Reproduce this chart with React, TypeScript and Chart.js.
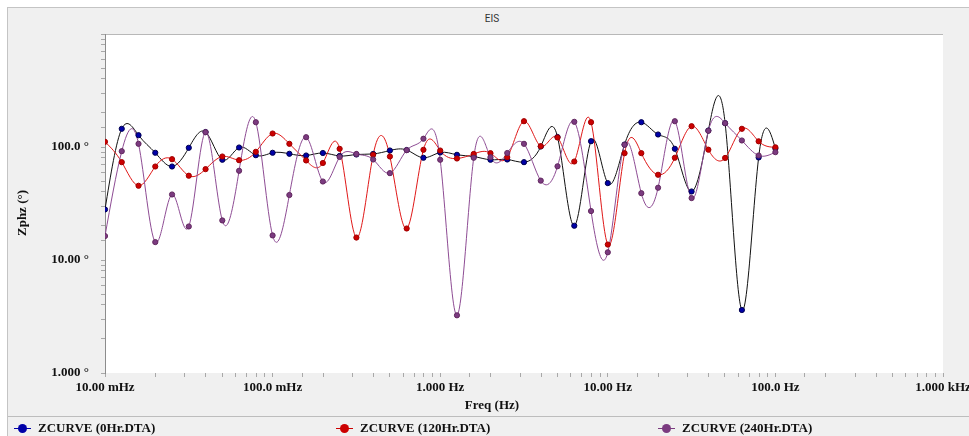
import React, { useEffect, useRef } from "react";
import { Chart, registerables } from "chart.js";

Chart.register(...registerables);

// ---- data ----
const freqHz = [
  0.01, 0.01259, 0.01585, 0.01995, 0.02512, 0.03162, 0.03981, 0.05012, 0.0631, 0.07943,
  0.1, 0.1259, 0.1585, 0.1995, 0.2512, 0.3162, 0.3981, 0.5012, 0.631, 0.7943,
  1, 1.259, 1.585, 1.995, 2.512, 3.162, 3.981, 5.012, 6.31, 7.943,
  10, 12.59, 15.85, 19.95, 25.12, 31.62, 39.81, 50.12, 63.1, 79.43, 100,
];

const phase0Hr = [
  28.0, 144.9, 127.2, 88.9, 67.2, 98.4, 135.7, 77.1, 99.0, 84.6,
  88.9, 87.1, 84.1, 88.5, 83.3, 85.8, 86.8, 93.1, 94.1, 80.3,
  89.4, 85.3, 82.4, 77.1, 77.5, 73.4, 101.0, 122.6, 20.1, 112.5,
  47.9, 105.2, 165.7, 129.0, 96.4, 40.4, 140.0, 162.4, 3.61, 80.8, 97.0,
];

const phase120Hr = [
  111.2, 73.4, 45.4, 67.2, 78.0, 55.7, 63.7, 82.4, 76.4, 90.7,
  131.6, 106.7, 76.0, 72.2, 96.4, 15.8, 85.3, 82.4, 19.0, 94.5,
  93.1, 79.1, 86.8, 88.2, 81.2, 169.1, 101.6, 121.4, 74.4, 165.7,
  13.7, 88.2, 88.2, 56.8, 80.3, 152.8, 94.7, 80.0, 144.9, 112.3, 99.4,
];

const phase240Hr = [
  16.3, 91.8, 106.7, 14.4, 38.0, 19.8, 135.2, 22.4, 61.6, 165.7,
  16.5, 37.6, 122.1, 49.5, 81.6, 86.8, 77.5, 58.7, 93.7, 118.4,
  77.1, 3.24, 80.3, 81.2, 88.5, 106.7, 50.4, 67.5, 167.1, 27.1,
  11.7, 104.6, 39.0, 43.6, 169.1, 35.3, 139.1, 162.4, 114.2, 84.1, 90.0,
];

const seriesNames = ["ZCURVE (0Hr.DTA)", "ZCURVE (120Hr.DTA)", "ZCURVE (240Hr.DTA)"];

const xTickValues = [0.01, 0.1, 1, 10, 100, 1000];
const xTickLabels = ["10.00 mHz", "100.0 mHz", "1.000 Hz", "10.00 Hz", "100.0 Hz", "1.000 kHz"];
const yTickValues = [1, 10, 100];
const yTickLabels = ["1.000 °", "10.00 °", "100.0 °"];

const chartTitle = "EIS";
const xTitle = "Freq (Hz)";
const yTitle = "Zphz (°)";

// ---- styles ----
const SERIF = "'Liberation Serif', 'Times New Roman', serif";
const markerFill = ["#0000a8", "#cc0000", "#7b3b80"];
const markerEdge = ["#000050", "#a00000", "#62285f"];
const lineColor = ["#111111", "#e01818", "#8e4c94"];

function labelFor(v: number, values: number[], labels: string[]): string {
  for (let i = 0; i < values.length; i++) {
    if (Math.abs(Math.log10(v) - Math.log10(values[i])) < 1e-6) return labels[i];
  }
  return "";
}

const areaPlugin = {
  id: "plotArea",
  beforeDraw(chart: any) {
    const { ctx, chartArea: a } = chart;
    ctx.save();
    ctx.fillStyle = "#ffffff";
    ctx.fillRect(a.left, a.top, a.right - a.left, a.bottom - a.top);
    ctx.strokeStyle = "#b8b8b8";
    ctx.lineWidth = 1;
    ctx.beginPath();
    ctx.moveTo(a.left, Math.round(a.top) + 0.5);
    ctx.lineTo(a.right, Math.round(a.top) + 0.5);
    ctx.stroke();
    ctx.restore();
  },
};

// natural cubic spline through the pixel positions of each dataset's points
const splinePlugin = {
  id: "naturalSpline",
  beforeDatasetsDraw(chart: any) {
    const { ctx, chartArea: a } = chart;
    ctx.save();
    ctx.beginPath();
    ctx.rect(a.left, a.top, a.right - a.left, a.bottom - a.top);
    ctx.clip();
    chart.data.datasets.forEach((ds: any, di: number) => {
      const meta = chart.getDatasetMeta(di);
      const xs: number[] = meta.data.map((p: any) => p.x);
      const ys: number[] = meta.data.map((p: any) => p.y);
      const n = xs.length;
      if (n < 2) return;
      const h: number[] = [];
      for (let i = 0; i < n - 1; i++) h.push(xs[i + 1] - xs[i]);
      const M = new Array(n).fill(0);
      if (n > 2) {
        const m = n - 2;
        const A = new Array(m).fill(0), B = new Array(m).fill(0), C = new Array(m).fill(0), D = new Array(m).fill(0);
        for (let k = 0; k < m; k++) {
          const i = k + 1;
          A[k] = h[i - 1];
          B[k] = 2 * (h[i - 1] + h[i]);
          C[k] = h[i];
          D[k] = 6 * ((ys[i + 1] - ys[i]) / h[i] - (ys[i] - ys[i - 1]) / h[i - 1]);
        }
        for (let k = 1; k < m; k++) {
          const w = A[k] / B[k - 1];
          B[k] -= w * C[k - 1];
          D[k] -= w * D[k - 1];
        }
        const sol = new Array(m).fill(0);
        sol[m - 1] = D[m - 1] / B[m - 1];
        for (let k = m - 2; k >= 0; k--) sol[k] = (D[k] - C[k] * sol[k + 1]) / B[k];
        for (let k = 0; k < m; k++) M[k + 1] = sol[k];
      }
      ctx.beginPath();
      ctx.moveTo(xs[0], ys[0]);
      for (let i = 0; i < n - 1; i++) {
        const hh = h[i];
        const s = (ys[i + 1] - ys[i]) / hh;
        const d0 = s - (hh * (2 * M[i] + M[i + 1])) / 6;
        const d1 = s + (hh * (M[i] + 2 * M[i + 1])) / 6;
        ctx.bezierCurveTo(xs[i] + hh / 3, ys[i] + (d0 * hh) / 3, xs[i + 1] - hh / 3, ys[i + 1] - (d1 * hh) / 3, xs[i + 1], ys[i + 1]);
      }
      ctx.strokeStyle = ds.splineColor;
      ctx.lineWidth = 1;
      ctx.stroke();
    });
    ctx.restore();
  },
};

export default function App() {
  const ref = useRef<HTMLCanvasElement | null>(null);

  useEffect(() => {
    if (!ref.current) return;
    const series = [phase0Hr, phase120Hr, phase240Hr];
    const chart = new Chart(ref.current, {
      type: "line",
      data: {
        datasets: series.map((vals, si) => ({
          label: seriesNames[si],
          data: freqHz.map((f, i) => ({ x: f, y: vals[i] })),
          showLine: false,
          pointRadius: 2.6,
          pointBorderWidth: 1,
          pointBackgroundColor: markerFill[si],
          pointBorderColor: markerEdge[si],
          order: 3 - si,
          splineColor: lineColor[si],
        })) as any,
      },
      options: {
        animation: false,
        responsive: false,
        devicePixelRatio: 1,
        events: [],
        layout: { padding: { left: 0, top: 26, right: 65, bottom: 0 } },
        plugins: { legend: { display: false }, title: { display: false }, tooltip: { enabled: false } },
        scales: {
          x: {
            type: "logarithmic",
            min: 0.01,
            max: 1000,
            position: "bottom",
            border: { display: false },
            grid: { drawOnChartArea: false, drawTicks: true, tickLength: 4, color: "#a8a8a8" },
            ticks: {
              autoSkip: false,
              maxRotation: 0,
              padding: 3,
              color: "#111111",
              font: { family: SERIF, size: 13, weight: "bold" },
              callback: (v: any) => labelFor(Number(v), xTickValues, xTickLabels),
            },
            afterFit: (s: any) => {
              s.height = 35;
            },
          },
          y: {
            type: "logarithmic",
            min: 1,
            max: 1000,
            position: "left",
            border: { display: true, color: "#8c8c8c", width: 1 },
            grid: { drawOnChartArea: false, drawTicks: true, tickLength: 4, color: "#a8a8a8" },
            ticks: {
              autoSkip: false,
              padding: 12,
              color: "#111111",
              font: { family: SERIF, size: 13, weight: "bold" },
              callback: (v: any) => labelFor(Number(v), yTickValues, yTickLabels),
            },
            afterFit: (s: any) => {
              s.width = 97;
            },
          },
        },
      } as any,
      plugins: [areaPlugin, splinePlugin],
    });
    return () => chart.destroy();
  }, []);

  const legendX = [0, 322, 644];

  return (
    <div
      style={{
        position: "fixed",
        left: 7,
        top: 7,
        width: 962,
        height: 429,
        boxSizing: "border-box",
        borderTop: "1px solid #c4c4c4",
        borderLeft: "1px solid #c4c4c4",
        background: "#f0f0f0",
        overflow: "hidden",
      }}
    >
      <div
        style={{
          position: "absolute",
          left: 384,
          width: 200,
          top: 4,
          textAlign: "center",
          font: "10px Roboto, 'Liberation Sans', sans-serif",
          color: "#333",
          lineHeight: "14px",
        }}
      >
        {chartTitle}
      </div>
      <canvas
        ref={ref}
        width={1000}
        height={400}
        style={{ position: "absolute", left: 0, top: 0, width: 1000, height: 400 }}
      />
      <div
        style={{
          position: "absolute",
          left: 14 - 60,
          top: 205 - 8,
          width: 120,
          height: 16,
          textAlign: "center",
          transform: "rotate(-90deg)",
          font: `bold 13px ${SERIF}`,
          lineHeight: "16px",
          color: "#111",
          whiteSpace: "nowrap",
        }}
      >
        {yTitle}
      </div>
      <div
        style={{
          position: "absolute",
          left: 384,
          width: 200,
          top: 397 - 8,
          textAlign: "center",
          font: `bold 13px ${SERIF}`,
          lineHeight: "16px",
          color: "#111",
        }}
      >
        {xTitle}
      </div>
      <div style={{ position: "absolute", left: 0, right: 0, top: 408, height: 1, background: "#bdbdbd" }} />
      {seriesNames.map((name, i) => (
        <div key={name} style={{ position: "absolute", left: legendX[i], top: 412, height: 16 }}>
          <div style={{ position: "absolute", left: 6, top: 8, width: 17, height: 1, background: markerFill[i] }} />
          <div
            style={{
              position: "absolute",
              left: 10,
              top: 4,
              width: 9,
              height: 9,
              borderRadius: "50%",
              background: markerFill[i],
            }}
          />
          <div
            style={{
              position: "absolute",
              left: 30,
              top: 0,
              whiteSpace: "nowrap",
              font: `bold 13px ${SERIF}`,
              lineHeight: "16px",
              color: "#111",
            }}
          >
            {name}
          </div>
        </div>
      ))}
    </div>
  );
}
